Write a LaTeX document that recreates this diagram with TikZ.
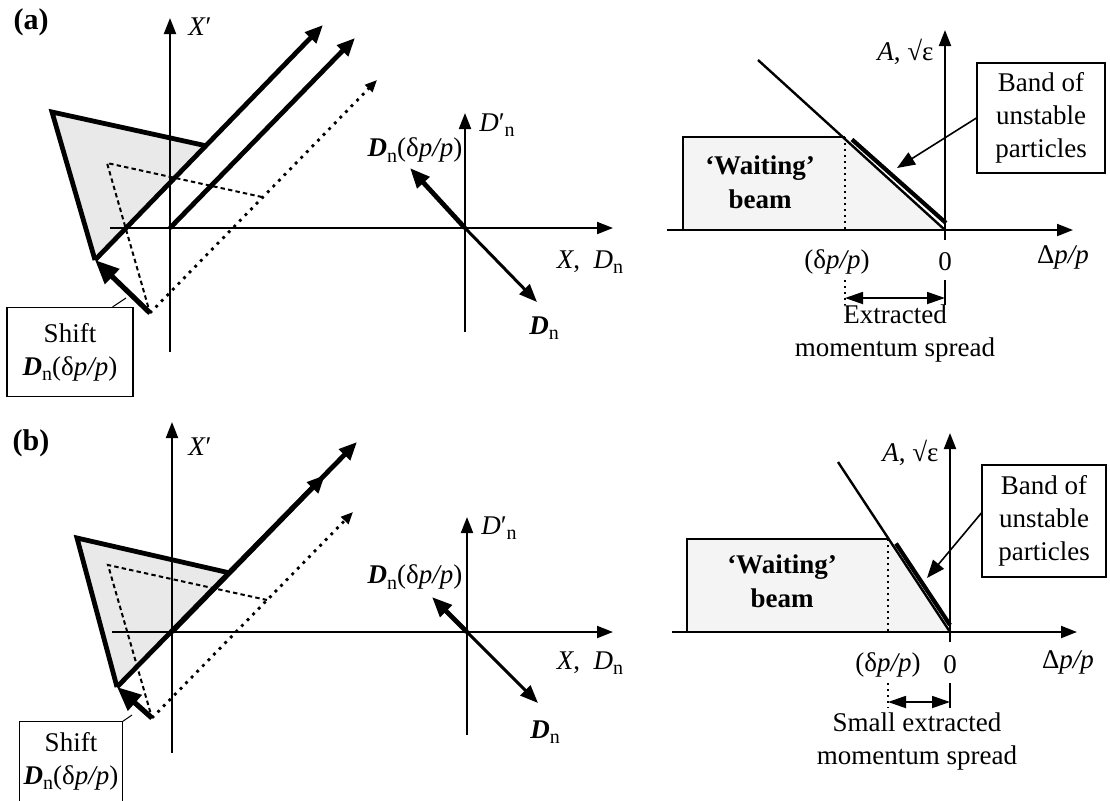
\documentclass[tikz,border=0pt]{standalone}
\usepackage{fontspec}
\setmainfont{Liberation Serif}
\usetikzlibrary{arrows.meta,positioning,calc}

\newcommand{\subn}{\raisebox{-0.45ex}{\fontsize{10}{10}\selectfont n}}
\newcommand{\Dbold}{\textbf{\textit{D}}\subn}
\newcommand{\Dprime}{\textit{D}′\subn}
\newcommand{\dpp}{(δ\textit{p/p})}

\tikzset{
  axisline/.style={line width=1pt,-{Triangle[length=8pt,width=6pt]}},
  beamline/.style={line width=2.4pt,-{Triangle[length=9pt,width=7.5pt]}},
  ghostline/.style={line width=1.4pt,dash pattern=on 1.4pt off 2.6pt,-{Triangle[length=6pt,width=5pt]}},
  ghosttri/.style={line width=1pt,dash pattern=on 2.2pt off 1.6pt},
  shiftarrow/.style={line width=2.6pt,-{Triangle[length=12pt,width=10pt]}},
  dnarrow/.style={line width=1.5pt,-{Triangle[length=9pt,width=7pt]}},
  band/.style={line width=2.1pt},
  infobox/.style={draw,line width=0.6pt,align=center,inner sep=2pt},
  spread/.style={line width=0.9pt,{Triangle[length=9pt,width=6pt]}-{Triangle[length=9pt,width=6pt]}},
  edge/.style={line width=0.9pt,dash pattern=on 1.2pt off 1.8pt},
}

\begin{document}
\begin{tikzpicture}[x=0.5pt,y=-0.5pt,
  every node/.style={font=\fontsize{13.5}{16.5}\selectfont,inner sep=1pt}]
\useasboundingbox (0,0) rectangle (1110,800);

%% ===== (a) phase space =====
\node[font=\bfseries\fontsize{15}{17}\selectfont] (labA) at (31,22) {(a)};
\coordinate (aO) at (170,228);
\coordinate (aM) at (465,228);
\coordinate (aT1) at (52,112);
\coordinate (aT2) at (207,146);
\coordinate (aT3) at (95,260);
\coordinate (aG1) at (107,163);
\coordinate (aG2) at (262,197);
\coordinate (aG3) at (150,313);
\fill[gray!17] (aT1) -- (aT2) -- (aT3) -- cycle;
\coordinate (aXpB) at (170,352);
\coordinate (aXpT) at (170,18);
\coordinate (aXL) at (110,228);
\coordinate (aXR) at (613,228);
\coordinate (aDpB) at (465,332);
\coordinate (aDpT) at (465,113);
\draw[axisline] (aXpB) -- (aXpT);
\draw[axisline] (aXL) -- (aXR);
\draw[axisline] (aDpB) -- (aDpT);
\node (aXp) at (200,27) {\textit{X}′};
\node (aDp) at (497,125) {\Dprime};
\node (aXD) at (590,262) {\textit{X},\ \ \textit{D}\subn};
% original and shifted beams
\draw[ghosttri] (aG2) -- (aG1) -- (aG3);
\coordinate (aGtip) at (377,80);
\draw[ghostline] (aG3) -- (aGtip);
\draw[line width=2.4pt,line join=miter] (aT2) -- (aT1) -- (aT3);
\coordinate (aTtip) at (323,25);
\coordinate (aOtip) at (355,38);
\draw[beamline] (aT3) -- (aTtip);
\draw[beamline] (aO) -- (aOtip);
\draw[shiftarrow] (aG3) -- (aT3);
\node[infobox,minimum width=63pt,minimum height=44.5pt] (shiftA) at (70,352) {Shift\\\Dbold\dpp};
\coordinate (aLead) at (126,298);
\draw[line width=0.5pt] ($(shiftA.north east)+(-21,0)$) -- (aLead);
% dispersion vectors
\coordinate (aDn) at (537,302);
\coordinate (aDs) at (410,168);
\draw[dnarrow] (aM) -- (aDn);
\draw[beamline,-{Triangle[length=10pt,width=8pt]}] (aM) -- (aDs);
\node (aDnL) at (544,328) {\Dbold};
\node (aDsL) at (415,150) {\Dbold\dpp};

%% ===== (a) amplitude ====
\coordinate (aP0) at (945,230);
\coordinate (aW1) at (683,230);
\coordinate (aW2) at (683,137);
\coordinate (aW3) at (845,137);
\fill[gray!9] (aW1) -- (aW2) -- (aW3) -- (aP0) -- cycle;
\draw[axisline] (945,240) -- (945,30);
\draw[axisline] (667,230) -- (1073,230);
\draw[line width=1pt] (aW1) -- (aW2) -- (aW3);
\draw[line width=1.2pt] (758,60) -- (aP0);
\draw[band] (852,139.5) -- (946,223);
\draw[edge] (aW3) -- (845,230);
\draw[edge] (845,280) -- (845,305);
\draw[line width=1pt] (945,280) -- (945,305);
\draw[spread] (845,298) -- (945,298);
\node (aAe) [anchor=east] at (936,52) {\textit{A},\ √ε};
\node (aDel) at (837,262) {\dpp};
\node (aZero) at (945,262) {0};
\node (aDpp) at (1063,257) {Δ\textit{p/p}};
\node[infobox,minimum width=64pt,minimum height=55pt] (bandA) at (1041,118) {Band of\\unstable\\particles};
\coordinate (aBtip) at (897,168);
\draw[line width=0.8pt,-{Triangle[length=9pt,width=7pt]}] (bandA.west) -- (aBtip);
\node[font=\bfseries\fontsize{13.5}{17}\selectfont,align=center] (waitA) at (760,182) {‘Waiting’\\beam};
\node[align=center] (extrA) at (895,333) {Extracted\\momentum spread};

%% ===== (b) phase space =====
\node[font=\bfseries\fontsize{15}{17}\selectfont] (labB) at (31,443) {(b)};
\coordinate (bO) at (172,632);
\coordinate (bM) at (467,632);
\coordinate (bT1) at (77,538);
\coordinate (bT2) at (230,573);
\coordinate (bT3) at (117,687);
\coordinate (bG1) at (108,565);
\coordinate (bG2) at (267,600);
\coordinate (bG3) at (152,718);
\fill[gray!17] (bT1) -- (bT2) -- (bT3) -- cycle;
\coordinate (bXpB) at (172,753);
\coordinate (bXpT) at (172,422);
\coordinate (bXL) at (112,632);
\coordinate (bXR) at (613,632);
\coordinate (bDpB) at (467,735);
\coordinate (bDpT) at (467,517);
\draw[axisline] (bXpB) -- (bXpT);
\draw[axisline] (bXL) -- (bXR);
\draw[axisline] (bDpB) -- (bDpT);
\node (bXp) at (200,447) {\textit{X}′};
\node (bDp) at (499,528) {\Dprime};
\node (bXD) at (590,663) {\textit{X},\ \ \textit{D}\subn};
\draw[ghosttri] (bG2) -- (bG1) -- (bG3);
\coordinate (bGtip) at (353,512);
\draw[ghostline] (bG3) -- (bGtip);
\draw[line width=2.4pt,line join=miter] (bT2) -- (bT1) -- (bT3);
\coordinate (bTtip) at (357,442);
\coordinate (bOtip) at (325,475);
\draw[beamline] (bT3) -- (bTtip);
\draw[beamline] (bO) -- (bOtip);
\draw[shiftarrow] (bG3) -- (bT3);
\node[minimum width=51pt,minimum height=39pt,inner sep=0pt,align=center] (shiftB) at (71,761) {Shift\\\Dbold\dpp};
\draw[line width=0.5pt] ($(shiftB.south west)+(0,10)$) -- (shiftB.north west) -- (shiftB.north east) -- ($(shiftB.south east)+(0,10)$);
\coordinate (bLead) at (132,715);
\draw[line width=0.5pt] (shiftB.north east) -- (bLead);
\coordinate (bDn) at (538,703);
\coordinate (bDs) at (432,597);
\draw[dnarrow] (bM) -- (bDn);
\draw[beamline,-{Triangle[length=10pt,width=8pt]}] (bM) -- (bDs);
\node (bDnL) at (545,732) {\Dbold};
\node (bDsL) at (415,577) {\Dbold\dpp};

%% ===== (b) amplitude =====
\coordinate (bP0) at (950,632);
\coordinate (bW1) at (687,632);
\coordinate (bW2) at (687,539);
\coordinate (bW3) at (888,539);
\fill[gray!9] (bW1) -- (bW2) -- (bW3) -- (bP0) -- cycle;
\draw[axisline] (950,642) -- (950,433);
\draw[axisline] (672,632) -- (1077,632);
\draw[line width=1pt] (bW1) -- (bW2) -- (bW3);
\draw[line width=1.2pt] (838,462) -- (bP0);
\draw[band] (896,543.5) -- (950,625);
\draw[edge] (bW3) -- (888,632);
\draw[edge] (888,683) -- (888,708);
\draw[line width=1pt] (950,683) -- (950,708);
\draw[spread] (888,702) -- (950,702);
\node (bAe) [anchor=east] at (941,453) {\textit{A},\ √ε};
\node (bDel) at (888,665) {\dpp};
\node (bZero) at (950,665) {0};
\node (bDpp) at (1068,662) {Δ\textit{p/p}};
\node[infobox,minimum width=62pt,minimum height=56pt] (bandB) at (1044,521) {Band of\\unstable\\particles};
\coordinate (bBtip) at (927,578);
\draw[line width=0.8pt,-{Triangle[length=9pt,width=7pt]}] ($(bandB.west)+(0,-8)$) -- (bBtip);
\node[font=\bfseries\fontsize{13.5}{17}\selectfont,align=center] (waitB) at (782,581) {‘Waiting’\\beam};
\node[align=center] (extrB) at (917,741) {Small extracted\\momentum spread};
\end{tikzpicture}
\end{document}
